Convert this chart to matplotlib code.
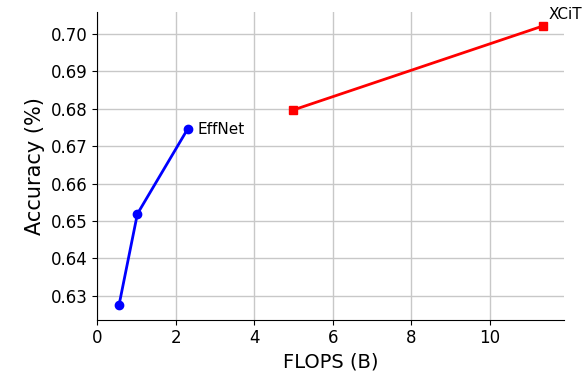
import matplotlib
matplotlib.use("Agg")
import matplotlib.pyplot as plt

effnet_flops = [0.55, 1.02, 2.30]
effnet_acc = [0.6274, 0.6519, 0.6746]
xcit_flops = [4.99, 11.36]
xcit_acc = [0.6797, 0.7022]

fig, ax = plt.subplots(figsize=(5.83, 3.77), dpi=100)
ax.plot(effnet_flops, effnet_acc, color="blue", marker="o", markersize=6, linewidth=2)
ax.plot(xcit_flops, xcit_acc, color="red", marker="s", markersize=6, linewidth=2)
ax.text(effnet_flops[-1] + 0.25, effnet_acc[-1], "EffNet", fontsize=11, va="center", ha="left")
ax.text(xcit_flops[-1] + 0.15, xcit_acc[-1] + 0.003, "XCiT", fontsize=11, va="center", ha="left")

ax.set_xlim(0, 11.9)
ax.set_ylim(0.6236, 0.7059)
ax.set_xticks([0, 2, 4, 6, 8, 10])
ax.set_yticks([0.63, 0.64, 0.65, 0.66, 0.67, 0.68, 0.69, 0.70])
ax.set_yticklabels([f"{v:.2f}" for v in [0.63, 0.64, 0.65, 0.66, 0.67, 0.68, 0.69, 0.70]])
ax.grid(True, color="#c8c8c8", linewidth=1)
ax.set_axisbelow(True)
ax.spines["top"].set_visible(False)
ax.spines["right"].set_visible(False)
ax.tick_params(labelsize=12)
ax.set_xlabel("FLOPS (B)", fontsize=14)
ax.set_ylabel("Accuracy (%)", fontsize=15)
fig.subplots_adjust(left=0.167, right=0.968, top=0.968, bottom=0.152)
fig.savefig("out.png")
